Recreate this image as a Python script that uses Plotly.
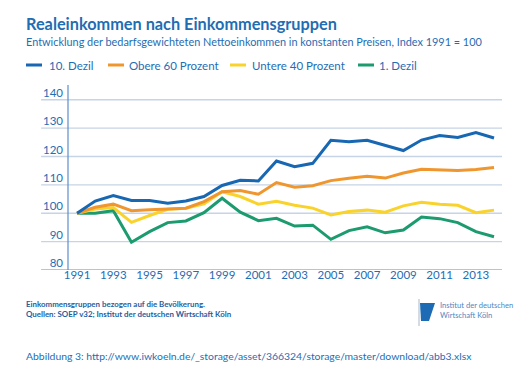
import plotly.graph_objects as go

years = list(range(1991, 2015))
dezil10 = [100, 104.3, 106.2, 104.5, 104.5, 103.5, 104.3, 105.9, 109.8, 111.6, 111.4,
           118.4, 116.4, 117.6, 125.7, 125.2, 125.7, 123.8, 122.1, 125.8, 127.4, 126.7, 128.4, 126.5]
obere60 = [100, 102.1, 103.2, 100.9, 101.2, 101.4, 101.8, 104.1, 107.6, 108.0, 106.7,
           110.8, 109.2, 109.7, 111.5, 112.3, 113.0, 112.4, 114.2, 115.5, 115.4, 115.1, 115.4, 116.1]
untere40 = [100, 101.5, 102.0, 96.8, 99.2, 101.4, 101.8, 103.3, 107.6, 105.9, 103.2,
            104.2, 102.8, 101.8, 99.4, 100.6, 101.1, 100.4, 102.6, 103.9, 103.2, 102.8, 100.2, 101.1]
dezil1 = [100, 100.0, 100.9, 89.8, 93.5, 96.7, 97.3, 100.2, 105.3, 100.4, 97.4,
          98.2, 95.5, 95.8, 90.8, 93.9, 95.2, 93.1, 94.1, 98.7, 98.1, 96.7, 93.5, 91.7]

series_names = ["10. Dezil", "Obere 60 Prozent", "Untere 40 Prozent", "1. Dezil"]
series_values = [dezil10, obere60, untere40, dezil1]
colors = ["#1767b2", "#f0962f", "#f9d32b", "#1b9b6e"]

y_ticks = [80, 90, 100, 110, 120, 130, 140]
x_ticks = list(range(1991, 2014, 2))

FONT = "Lato"
BLUE_TXT = "#1f6db3"

fig = go.Figure()
for name, vals, col in reversed(list(zip(series_names, series_values, colors))):
    fig.add_trace(go.Scatter(x=years, y=vals, mode="lines", name=name,
                             line=dict(color=col, width=3), showlegend=False))

for t in y_ticks[1:]:
    fig.add_shape(type="line", xref="paper", yref="y", x0=-0.062, x1=1, y0=t, y1=t,
                  line=dict(color="#c7d4e6", width=1.3), layer="below")
fig.add_shape(type="line", xref="paper", yref="y", x0=-0.062, x1=1, y0=80, y1=80,
              line=dict(color="#5b8fc9", width=1.2), layer="above")
fig.add_shape(type="line", xref="paper", yref="paper", x0=0, x1=0, y0=0, y1=1,
              line=dict(color="#5b8fc9", width=1.2), layer="above")

def px(x):
    return (x - 60) / 434

def py(y):
    return (368 - 106 - y) / 185

leg_x = [18, 100, 222, 350]
leg_tx = [40, 120, 243, 370]
for name, col, lx, tx in zip(series_names, colors, leg_x, leg_tx):
    fig.add_shape(type="line", xref="paper", yref="paper",
                  x0=px(lx), x1=px(lx + 16), y0=py(57), y1=py(57),
                  line=dict(color=col, width=3))
    fig.add_annotation(text=name, xref="paper", yref="paper",
                       x=px(tx - 1), y=py(57),
                       xanchor="left", yanchor="middle", showarrow=False,
                       font=dict(family=FONT, size=11.5, color=BLUE_TXT))

fig.add_annotation(text="<b>Realeinkommen nach Einkommensgruppen</b>", xref="paper", yref="paper",
                   x=px(16), y=py(15), xanchor="left", yanchor="middle",
                   showarrow=False, font=dict(family=FONT, size=16.3, color=BLUE_TXT))
fig.add_annotation(text="Entwicklung der bedarfsgewichteten Nettoeinkommen in konstanten Preisen, Index 1991 = 100",
                   xref="paper", yref="paper",
                   x=px(16), y=py(34), xanchor="left", yanchor="middle",
                   showarrow=False, font=dict(family=FONT, size=10.9, color=BLUE_TXT))

fig.add_annotation(text="<b>Einkommensgruppen bezogen auf die Bevölkerung.<br>Quellen: SOEP v32; Institut der deutschen Wirtschaft Köln</b>",
                   xref="paper", yref="paper", align="left",
                   x=px(16), y=py(301), xanchor="left", yanchor="middle",
                   showarrow=False, font=dict(family=FONT, size=7.9, color="#1c5f9f"))
fig.add_shape(type="rect", xref="paper", yref="paper",
              x0=px(410), x1=px(412), y0=py(318), y1=py(291),
              line=dict(width=0), fillcolor="#d5dbe3")
fig.add_shape(type="path", xref="paper", yref="paper",
              path="M {a},{b} L {c},{b} L {d},{e} L {f},{e} Z".format(
                  a=px(412), b=py(295), c=px(427), d=px(421), e=py(313), f=px(413)),
              line=dict(width=0), fillcolor="#1d6bb5")
fig.add_annotation(text="Institut der deutschen<br>Wirtschaft Köln",
                   xref="paper", yref="paper", align="left",
                   x=px(430), y=py(302), xanchor="left", yanchor="middle",
                   showarrow=False, font=dict(family=FONT, size=7.6, color="#4f86c0"))

fig.add_annotation(text="Abbildung 3: http://www.iwkoeln.de/_storage/asset/366324/storage/master/download/abb3.xlsx",
                   xref="paper", yref="paper",
                   x=px(16), y=py(348), xanchor="left", yanchor="middle",
                   showarrow=False, font=dict(family=FONT, size=10.4, color=BLUE_TXT))

fig.update_layout(
    width=522, height=368,
    margin=dict(l=60, r=28, t=77, b=106, pad=0),
    paper_bgcolor="white", plot_bgcolor="white",
    showlegend=False,
    font=dict(family=FONT, color=BLUE_TXT),
    xaxis=dict(range=[1990.5, 2014.44], tickvals=x_ticks, ticktext=[str(v) for v in x_ticks],
               showgrid=False, zeroline=False, showline=False, ticks="",
               tickfont=dict(family=FONT, size=11.5, color=BLUE_TXT), ticklabelstandoff=-4),
    yaxis=dict(range=[80, 145.2], tickvals=y_ticks, ticktext=[str(v) for v in y_ticks],
               showgrid=False, zeroline=False, showline=False, ticks="",
               tickfont=dict(family=FONT, size=11.5, color=BLUE_TXT),
               ticklabelstandoff=4, ticklabelshift=-7),
)

fig.write_html("out.html")
